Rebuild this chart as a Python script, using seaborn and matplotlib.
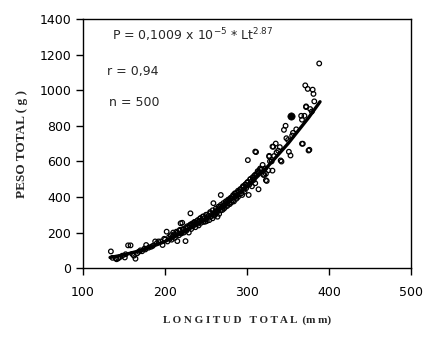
import numpy as np
import pandas as pd
import matplotlib
matplotlib.use("Agg")
import matplotlib.pyplot as plt
import seaborn as sns

# longitud total (mm) y peso total (g)
longitud = [
    134, 136, 140, 141, 143, 145, 148, 151, 152, 155, 158, 160, 162, 164, 166,
    168, 170, 172, 175, 176, 177, 180, 183, 185, 188, 190, 192, 195, 197, 199,
    200, 202, 203, 205, 206, 208, 210, 210, 212, 213, 215, 215, 217, 218, 219,
    220, 221, 222, 223, 225, 225, 226, 228, 229, 230, 231, 232, 233, 234, 235,
    236, 237, 238, 240, 240, 241, 242, 243, 244, 245, 246, 247, 248, 249, 250,
    250, 251, 252, 253, 254, 255, 256, 257, 258, 259, 260, 260,
    261, 262, 263, 264, 265, 266, 267, 268, 268, 269, 270, 271, 272, 273, 274,
    275, 276, 277, 278, 279, 280, 281, 282, 283, 284, 285, 286, 287, 288, 289,
    290, 291, 292, 293, 294, 295, 296, 297, 298, 299, 300, 301, 302, 303, 304,
    305, 306, 307, 308, 309, 310, 310, 311, 312, 313, 314, 315, 316, 318, 319,
    320, 321,
    322, 323, 323, 324, 326, 327, 327, 328, 330, 331, 331, 332, 333, 335, 336,
    338, 340, 341, 342, 345, 347, 348, 350, 351, 353, 355, 356, 360, 366, 367,
    367, 368, 370, 371, 372, 372, 374, 375, 376, 377, 379, 380, 381, 382, 388,
    # banda densa junto a la curva
    207, 211, 214, 218, 222, 227, 231, 235, 239, 243, 247, 251, 255, 258,
    262, 265, 268, 271, 274, 277, 280, 283, 286, 289, 292, 295, 298, 301,
    304, 307, 310, 313, 316, 264, 272, 279, 288, 296, 242, 233,
]
peso = [
    94, 58, 55, 50, 55, 62, 70, 60, 78, 128, 128, 80, 70, 53, 83,
    92, 100, 95, 110, 105, 130, 115, 120, 125, 150, 140, 150, 150, 130, 165,
    160, 205, 150, 175, 165, 160, 180, 200, 170, 190, 152, 200, 185, 210, 252,
    195, 255, 215, 200, 152, 225, 210, 230, 200, 240, 308, 220, 250, 235, 245,
    260, 230, 252, 250, 270, 240, 265, 280, 255, 270, 290, 260, 280, 261, 300,
    275, 265, 285, 295, 270, 308, 290, 300, 280, 365, 310, 295,
    300, 320, 310, 289, 330, 305, 345, 411, 325, 340, 327, 350, 335, 360, 345,
    370, 350, 380, 365, 360, 390, 370, 400, 380, 375, 420, 402, 390, 410, 400,
    430, 415, 440, 420, 411, 455, 440, 430, 470, 450, 480, 607, 411, 470, 500,
    485, 460, 510, 495, 520, 477, 655, 652, 530, 545, 443, 540, 560, 555, 580,
    524, 524,
    560, 494, 530, 490, 550, 627, 631, 600, 600, 548, 683, 682, 630, 700, 650,
    660, 680, 605, 599, 777, 800, 730, 720, 654, 633, 745, 760, 780, 856, 834,
    699, 699, 856, 1027, 905, 909, 1007, 661, 665, 894, 880, 1003, 979, 937, 1150,
    185, 190, 205, 215, 220, 235, 245, 255, 265, 280, 290, 300, 315, 325,
    335, 345, 355, 365, 375, 385, 395, 410, 420, 435, 445, 460, 470, 485,
    500, 510, 525, 540, 555, 320, 350, 385, 425, 460, 265, 240,
]

# punto destacado (relleno)
dest_x = [354]
dest_y = [855]

# curva ajustada
curva_x = [133, 150, 175, 200, 225, 250, 275, 300, 325, 350, 375, 389]
curva_y = [60, 75, 105, 150, 207, 277, 360, 457, 570, 700, 845, 935]

df = pd.DataFrame({"Lt": longitud, "P": peso})
df_curva = pd.DataFrame({"Lt": curva_x, "P": curva_y})

sns.set_style("white")
plt.rcParams["font.family"] = ["DejaVu Sans"]

fig = plt.figure(figsize=(4.3, 3.39), dpi=100)
ax = fig.add_axes([0.193, 0.209, 0.763, 0.735])

sns.scatterplot(data=df, x="Lt", y="P", ax=ax, marker="o", s=11,
                facecolor="none", edgecolor="black", linewidth=0.9)
sns.scatterplot(x=dest_x, y=dest_y, ax=ax, marker="o", s=28,
                color="black", edgecolor="black")
sns.lineplot(data=df_curva, x="Lt", y="P", ax=ax, color="black", linewidth=2.4)

ax.set_xlim(100, 500)
ax.set_ylim(0, 1400)
ax.set_xticks(range(100, 501, 100))
ax.set_yticks(range(0, 1401, 200))
ax.tick_params(axis="both", direction="out", length=5, width=1, labelsize=9,
               colors="black", bottom=True, left=True)
ax.tick_params(axis="x", pad=8)
for sp in ax.spines.values():
    sp.set_visible(True)
    sp.set_color("black")
    sp.set_linewidth(1)

ax.set_xlabel("L O N G I T U D   T O T A L  (m m)", fontsize=8,
              fontweight="bold", family="Liberation Serif", labelpad=12)
ax.set_ylabel("PESO TOTAL ( g )", fontsize=9.5, fontweight="bold",
              family="Liberation Serif", labelpad=8)

ax.text(135, 1307, r"P = 0,1009 x 10$^{-5}$ * Lt$^{2.87}$", fontsize=9, va="center")
ax.text(129, 1104, "r = 0,94", fontsize=9, va="center")
ax.text(132, 930, "n = 500", fontsize=9, va="center")

fig.savefig("out.png", dpi=100)
